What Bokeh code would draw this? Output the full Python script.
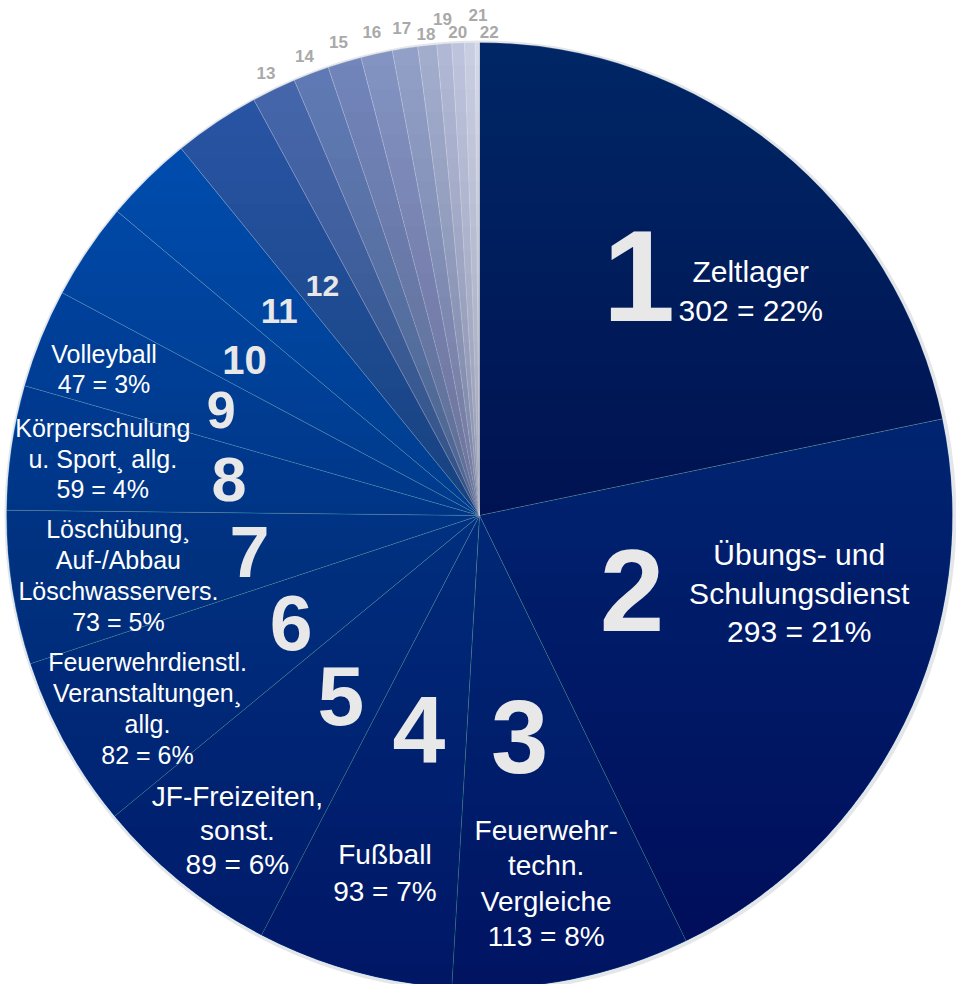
import math
import numpy as np
from bokeh.plotting import figure
from bokeh.models import Range1d
from bokeh.core.properties import value
from bokeh.embed import file_html
from bokeh.resources import INLINE

# ---------------- data ----------------
slice_numbers = [str(i) for i in range(1, 23)]
counts = [302, 293, 113, 93, 89, 82, 73, 59, 47, 46, 42, 41, 21, 17, 16, 15, 12, 9, 7, 6, 5, 2]
categories = [
    "Zeltlager",
    "Übungs- und\nSchulungsdienst",
    "Feuerwehr-\ntechn.\nVergleiche",
    "Fußball",
    "JF-Freizeiten,\nsonst.",
    "Feuerwehrdienstl.\nVeranstaltungen¸\nallg.",
    "Löschübung¸\nAuf-/Abbau\nLöschwasservers.",
    "Körperschulung\nu. Sport¸ allg.",
    "Volleyball",
]
labelled_counts = [302, 293, 113, 93, 89, 82, 73, 59, 47]
percents = ["22%", "21%", "8%", "7%", "6%", "6%", "5%", "4%", "3%"]

# ---------------- style / layout ----------------
colors = ["#012665", "#003483", "#003c95", "#003f9c", "#0042a3", "#0045a8",
          "#0047ab", "#0049ae", "#004bb0", "#004eb3", "#0050b5", "#2a56a8",
          "#4767ae", "#607ab6", "#7286bb", "#8393c2", "#929fc7", "#a2adce",
          "#b0b8d5", "#bdc3dc", "#c9cde2", "#d5d8e8"]
num_r = [288, 170, 225, 222, 228, 217, 233, 253, 279, 282, 286, 278,
         491, 492, 494, 495, 494, 484, 498, 484, 501, 484]
num_dtheta = [-5.5, 0, 1, 0.4, -1.5, -0.9, -0.3, 0, 0.2, -0.5, 0.1, -0.6,
              0, 0, 0, 0, 0, 0, 0, 0, 1.0, 1.4]
num_size = [130, 116, 103, 95, 84, 77, 72, 63, 52, 40, 35, 30] + [17] * 10
lab_r = [352, 329, 374, 370, 397, 384, 366, 381, 403]
lab_dtheta = [11.3, -12.5, 1.0, -0.6, -1.4, -1.3, -0.6, 0.3, -0.7]
lab_size = [30, 30, 28, 28, 28, 25, 25, 25, 25]
lab_lh = [1.2, 1.17, 1.15, 1.18, 1.1, 1.1, 1.1, 1.1, 1.1]

W, H = 956, 984
CX, CY, R = 479, 989 - 515, 473

p = figure(width=W, height=H, output_backend="svg", toolbar_location=None,
           x_range=Range1d(0, W), y_range=Range1d(989 - H, 989),
           x_axis_type=None, y_axis_type=None, min_border=0,
           outline_line_color=None, background_fill_color="white")
p.grid.visible = False

total = sum(counts)
starts, ends, mids = [], [], []
acc = 0
for c in counts:
    a0 = acc / total * 360.0
    acc += c
    a1 = acc / total * 360.0
    starts.append(a0)
    ends.append(a1)
    mids.append((a0 + a1) / 2)

# soft shadow ring
p.circle(x=[CX + 1], y=[CY - 1], radius=R + 3, fill_color="#c4c7cf", fill_alpha=0.45, line_color=None)

p.wedge(x=[CX] * len(counts), y=[CY] * len(counts), radius=R,
        start_angle=[math.radians(90 - a) for a in starts],
        end_angle=[math.radians(90 - a) for a in ends],
        direction="clock", fill_color=colors,
        line_color="white", line_alpha=0.3, line_width=0.6)

# vertical darkening gradient (stacked translucent circle segments)
n_layers = 40
layer_alpha = 1 - 0.68 ** (1 / n_layers)
xs, ys = [], []
for k in range(1, n_layers + 1):
    yk = R - 2 * R * k / (n_layers + 1)          # relative to centre, going down
    phi = math.asin(max(-1.0, min(1.0, yk / R)))
    t = np.linspace(phi, -math.pi - phi, 120)
    xs.append(list(CX + R * np.cos(t)))
    ys.append(list(CY + R * np.sin(t)))
p.patches(xs=xs, ys=ys, fill_color="black", fill_alpha=layer_alpha, line_color=None)


def polar(r, theta):
    th = math.radians(theta)
    return CX + r * math.sin(th), CY + r * math.cos(th)


font = value("Liberation Sans")
for i, n in enumerate(slice_numbers):
    x, y = polar(num_r[i], mids[i] + num_dtheta[i])
    col = "#e8e8e8" if i < 12 else "#a9a9a9"
    p.text(x=[x], y=[y], text=[n], text_font=font, text_font_style="bold",
           text_font_size=f"{num_size[i]}px", text_color=col,
           text_align="center", text_baseline="middle")

for i, cat in enumerate(categories):
    x, y = polar(lab_r[i], mids[i] + lab_dtheta[i])
    txt = f"{cat}\n{labelled_counts[i]} = {percents[i]}"
    p.text(x=[x], y=[y], text=[txt], text_font=font,
           text_font_size=f"{lab_size[i]}px", text_color="white",
           text_line_height=lab_lh[i],
           text_align="center", text_baseline="middle")

open("out.html", "w").write(file_html(p, INLINE))
